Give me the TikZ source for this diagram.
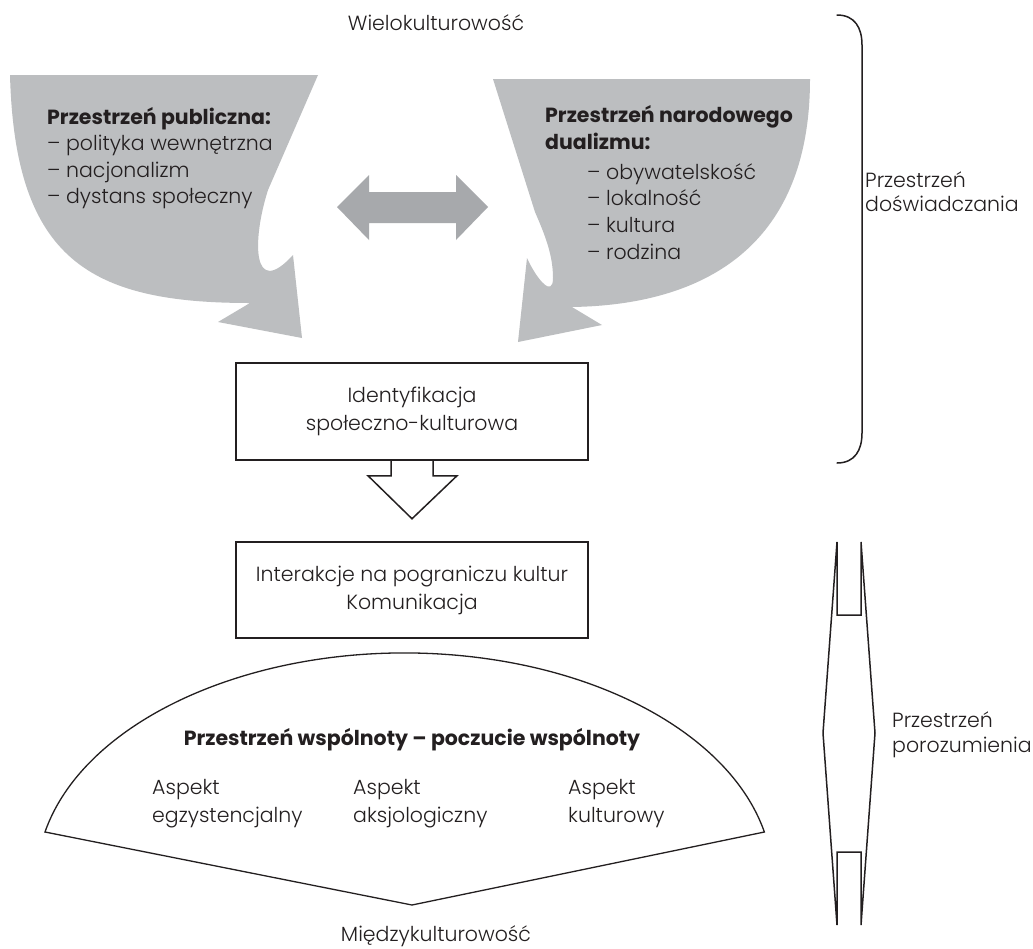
\documentclass[tikz,border=0pt]{standalone}
\usepackage{fontspec}
\IfFontExistsTF{Poppins Light}
  {\setmainfont{Poppins Light}[BoldFont=Poppins Bold]}
  {\setmainfont{Poppins}}
\usetikzlibrary{calc}
\definecolor{shapegrey}{HTML}{BCBEC0}
\definecolor{arrowgrey}{HTML}{A7A9AC}
\definecolor{ink}{HTML}{231F20}
\begin{document}
\begin{tikzpicture}[x=1pt,y=-1pt,
  txt/.style={inner sep=0pt, text=ink, font=\fontsize{20.5}{27}\selectfont},
  btxt/.style={inner sep=0pt, text=ink, font=\fontsize{20.5}{27}\selectfont\bfseries},
  outline/.style={draw=ink, line width=1.5pt, line join=miter},
  box/.style={outline, minimum width=352pt, align=center, inner sep=0pt, text=ink, font=\fontsize{20.5}{28}\selectfont}]
\useasboundingbox[fill=white] (0,0) rectangle (1033,948);

% grey shapes
\fill[shapegrey] (10,75) -- (318,75) -- (268,190)
  .. controls (252,240) and (252,300) .. (293,255)
  -- (302,338) -- (218,322) -- (250,303)
  .. controls (90,303) and (15,260) .. (10,75) -- cycle;
\fill[shapegrey] (493,79) -- (810,79)
  .. controls (810,250) and (700,305) .. (572,307)
  -- (602,325) -- (518,342) -- (527,258)
  .. controls (537,280) and (553,298) .. (553,278)
  .. controls (553,255) and (545,235) .. (535,212) -- cycle;
% double arrow
\fill[arrowgrey] (337,207) -- (369,175) -- (369,192) -- (456,192) -- (456,175)
  -- (488,207) -- (456,240) -- (456,223) -- (369,223) -- (369,240) -- cycle;

% texts in grey shapes
\node[btxt, anchor=base west] (lh) at (47,124) {Przestrzeń publiczna:};
\node[txt, anchor=base west] (l1) at (47,150.5) {– polityka wewnętrzna};
\node[txt, anchor=base west] (l2) at (47,177) {– nacjonalizm};
\node[txt, anchor=base west] (l3) at (47,203.5) {– dystans społeczny};

\node[btxt, anchor=base west] (rh1) at (545,122) {Przestrzeń narodowego};
\node[btxt, anchor=base west] (rh2) at (545,149) {dualizmu:};
\node[txt, anchor=base west] (r1) at (587,179) {– obywatelskość};
\node[txt, anchor=base west] (r2) at (587,205) {– lokalność};
\node[txt, anchor=base west] (r3) at (587,232) {– kultura};
\node[txt, anchor=base west] (r4) at (587,259) {– rodzina};

\node[txt, anchor=base] (w) at (436,30) {Wielokulturowość};

% boxes
\node[box, minimum height=97pt] (b1) at (412,411.5) {Identyfikacja\\społeczno-kulturowa};
\node[box, minimum height=96pt] (b2) at (412,590) {Interakcje na pograniczu kultur\\Komunikacja};

% hollow arrow
\draw[outline] ([xshift=-21pt]b1.south) -- ([xshift=-21pt,yshift=-15pt]b1.south)
  -- ([xshift=-44pt,yshift=-15pt]b1.south) -- ([yshift=-58pt]b1.south)
  -- ([xshift=45pt,yshift=-15pt]b1.south) -- ([xshift=21pt,yshift=-15pt]b1.south)
  -- ([xshift=21pt]b1.south);

% fan
\draw[outline, line width=1.3pt] (45,832) arc[start angle=167.8, end angle=12.2, x radius=368pt, y radius=227pt]
  -- (412,905) -- cycle;
\node[btxt, anchor=base] (fh) at (412,745) {Przestrzeń wspólnoty – poczucie wspólnoty};
\node[txt, anchor=base west] (a1) at (152,794) {Aspekt};
\node[txt, anchor=base west] (a1b) at (152,822) {egzystencjalny};
\node[txt, anchor=base west] (a2) at (353,794) {Aspekt};
\node[txt, anchor=base west] (a2b) at (353,822) {aksjologiczny};
\node[txt, anchor=base west] (a3) at (568,794) {Aspekt};
\node[txt, anchor=base west] (a3b) at (568,822) {kulturowy};
\node[txt, anchor=base] (m) at (436,941) {Międzykulturowość};

% bracket
\draw[outline, line cap=round] (837,15) .. controls (855,15) and (862,28) .. (862,45)
  -- (862,433) .. controls (862,450) and (855,463) .. (837,463);
\node[txt, anchor=base west] (pd1) at (865,187) {Przestrzeń};
\node[txt, anchor=base west] (pd2) at (865,211) {doświadczania};

% lozenge
\draw[outline] (837,542) -- (837,615) -- (861,615) -- (861,542) -- (875,733)
  -- (861,925) -- (861,852) -- (837,852) -- (837,925) -- (823,733) -- cycle;
\node[txt, anchor=base west] (pp1) at (892,727) {Przestrzeń};
\node[txt, anchor=base west] (pp2) at (892,752) {porozumienia};
\end{tikzpicture}
\end{document}
